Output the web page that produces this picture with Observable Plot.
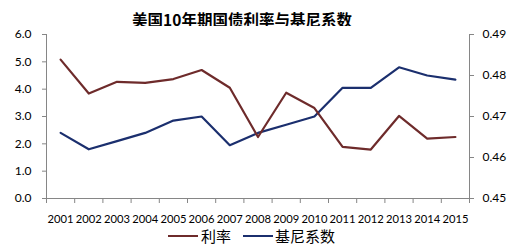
<!DOCTYPE html>
<html><head><meta charset="utf-8">
<script src="https://cdn.jsdelivr.net/npm/d3@7"></script>
<script src="https://cdn.jsdelivr.net/npm/@observablehq/plot@0.6"></script>
<style>
body{margin:0;background:#fff;width:516px;height:251px;overflow:hidden;font-family:Lato,sans-serif;}
#title{position:absolute;left:0;top:9px;width:484px;text-align:center;font:bold 15.5px "Noto Sans CJK SC";color:#000;line-height:20px;}
#chart{position:absolute;left:0;top:26px;}
#legend{position:absolute;left:0;top:226px;width:516px;height:20px;font:15px "Noto Sans CJK SC";color:#000;}
.li{position:absolute;top:0;line-height:20px;}
.sw{position:absolute;top:9px;height:2px;width:30px;}
</style></head><body>
<div id="title">美国10年期国债利率与基尼系数</div>
<div id="chart"></div>
<div id="legend">
<span class="sw" style="left:168px;background:#6e2b2b"></span><span class="li" style="left:201px">利率</span>
<span class="sw" style="left:243px;background:#1b2f6e"></span><span class="li" style="left:275px">基尼系数</span>
</div>
<script>
const years = [2001,2002,2003,2004,2005,2006,2007,2008,2009,2010,2011,2012,2013,2014,2015];
const rate = [5.08,3.84,4.27,4.23,4.37,4.70,4.05,2.25,3.87,3.31,1.89,1.79,3.02,2.19,2.25];
const gini = [0.466,0.462,0.464,0.466,0.469,0.470,0.463,0.466,0.468,0.470,0.477,0.477,0.482,0.480,0.479];
const leftTicks = [0,1,2,3,4,5,6];
const rightTicks = [0.45,0.46,0.47,0.48,0.49];
const gMin = 0.45, gMax = 0.49, yMax = 6;
const toLeft = g => (g - gMin) / (gMax - gMin) * yMax;

const rateData = years.map((y,i)=>({year:y, v:rate[i]}));
const giniData = years.map((y,i)=>({year:y, v:toLeft(gini[i])}));
const bounds = years.map(y=>y-0.5).concat([years[years.length-1]+0.5]);

const plot = Plot.plot({
  width: 516, height: 205,
  marginLeft: 46, marginRight: 47, marginTop: 8, marginBottom: 33,
  style: {fontFamily: "Lato", fontSize: "12px", color: "#000", background: "#fff"},
  x: {type: "linear", domain: [years[0]-0.5, years[years.length-1]+0.5]},
  y: {domain: [0, yMax]},
  marks: [
    Plot.axisY({ticks: leftTicks, tickFormat: d=>d.toFixed(1), tickSize: 4, tickPadding: 11, stroke: "#868686", strokeOpacity: 1, label: null}),
    Plot.axisY({anchor: "right", ticks: rightTicks.map(toLeft), tickFormat: d=>(gMin + d/yMax*(gMax-gMin)).toFixed(2), tickSize: 4, tickPadding: 9, stroke: "#868686", strokeOpacity: 1, label: null}),
    Plot.axisX({ticks: bounds, tickFormat: ()=>"", tickSize: 5, stroke: "#868686", strokeOpacity: 1, label: null}),
    Plot.axisX({ticks: years, tickFormat: d=>String(d), tickSize: 0, tickPadding: 17, fontSize: 11.2, label: null}),
    Plot.ruleY([0], {stroke: "#868686"}),
    Plot.ruleX([bounds[0]], {stroke: "#868686"}),
    Plot.ruleX([bounds[bounds.length-1]], {stroke: "#868686"}),
    Plot.line(giniData, {x: "year", y: "v", stroke: "#1b2f6e", strokeWidth: 2.2}),
    Plot.line(rateData, {x: "year", y: "v", stroke: "#6e2b2b", strokeWidth: 2.2})
  ]
});
document.getElementById("chart").appendChild(plot);
</script>
</body></html>
